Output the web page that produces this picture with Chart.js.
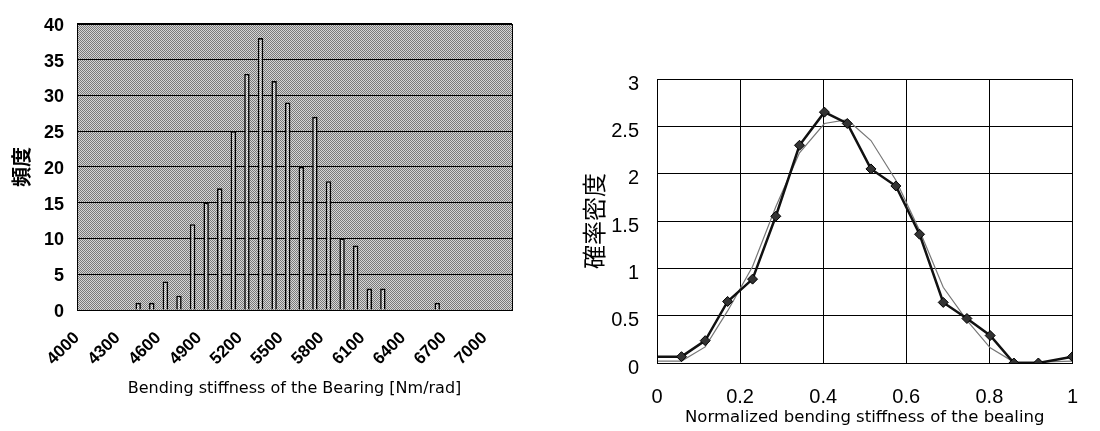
<!DOCTYPE html>
<html>
<head>
<meta charset="utf-8">
<script src="https://cdn.jsdelivr.net/npm/chart.js@4.4.1/dist/chart.umd.min.js"></script>
<style>
  body { margin: 0; background: #fff; }
  #marco { position: relative; width: 1100px; height: 431px; }
  #histograma { position: absolute; left: 0; top: 0; }
  #densidad { position: absolute; left: 560px; top: 0; }
</style>
</head>
<body>
<div id="marco">
  <canvas id="histograma" width="560" height="431"></canvas>
  <canvas id="densidad" width="540" height="431"></canvas>
</div>
<script>
// 1. DATOS DEL HISTOGRAMA (clases cada 100 Nm/rad)
const clases = [4000, 4100, 4200, 4300, 4400, 4500, 4600, 4700, 4800, 4900,
                5000, 5100, 5200, 5300, 5400, 5500, 5600, 5700, 5800, 5900,
                6000, 6100, 6200, 6300, 6400, 6500, 6600, 6700, 6800, 6900,
                7000, 7100];
const frecuencias = [0, 0, 0, 0, 1, 1, 4, 2, 12, 15,
                     17, 25, 33, 38, 32, 29, 20, 27, 18, 10,
                     9, 3, 3, 0, 0, 0, 1, 0, 0, 0,
                     0, 0];
const etiquetasX = ["4000", "4300", "4600", "4900", "5200", "5500", "5800", "6100", "6400", "6700", "7000"];

// 2. DATOS DE DENSIDAD (rigidez normalizada)
const rigidezNorm = [0, 0.059, 0.116, 0.170, 0.230, 0.286, 0.343, 0.403, 0.458, 0.515,
                     0.575, 0.632, 0.689, 0.746, 0.802, 0.859, 0.918, 1.0];
const densidadMedida = [0.067, 0.067, 0.236, 0.65, 0.886, 1.55, 2.30, 2.65, 2.53, 2.05,
                        1.87, 1.36, 0.64, 0.47, 0.29, 0, 0, 0.067];
const densidadAjuste = [0.02, 0.02, 0.17, 0.55, 1.02, 1.65, 2.22, 2.53, 2.57, 2.35,
                        1.93, 1.40, 0.80, 0.45, 0.16, 0.01, 0.01, 0.02];

const fuenteNum = "'Liberation Sans', Arial, sans-serif";
const fuenteTit = "'DejaVu Sans', sans-serif";
const fuenteJp = "'Noto Sans CJK JP', sans-serif";

// trama de puntos tipo Excel
function crearTrama(claro, oscuro) {
  const t = document.createElement("canvas");
  t.width = 2; t.height = 2;
  const g = t.getContext("2d");
  g.fillStyle = claro; g.fillRect(0, 0, 2, 2);
  g.fillStyle = oscuro; g.fillRect(0, 0, 1, 1); g.fillRect(1, 1, 1, 1);
  return g.createPattern(t, "repeat");
}

const fondoArea = {
  id: "fondoArea",
  beforeDraw(chart, args, opts) {
    if (!opts.relleno) return;
    const { ctx, chartArea: a } = chart;
    ctx.save();
    ctx.fillStyle = opts.relleno;
    ctx.fillRect(a.left, a.top, a.width, a.height);
    ctx.restore();
  },
  afterDraw(chart) {
    const { ctx, chartArea: a } = chart;
    ctx.save();
    ctx.strokeStyle = "#000";
    ctx.lineWidth = 1;
    ctx.strokeRect(Math.round(a.left) + 0.5, Math.round(a.top) + 0.5, Math.round(a.width), Math.round(a.height));
    ctx.restore();
  }
};

Chart.defaults.animation = false;
Chart.defaults.color = "#000";

// HISTOGRAMA
new Chart(document.getElementById("histograma"), {
  type: "bar",
  data: {
    labels: clases,
    datasets: [{
      data: frecuencias,
      backgroundColor: crearTrama("#f2f2f2", "#9a9a9a"),
      borderColor: "#000",
      borderWidth: 1.6,
      barPercentage: 0.4,
      categoryPercentage: 1
    }]
  },
  options: {
    responsive: false,
    layout: { padding: { top: 13, right: 48, left: 0, bottom: 0 } },
    plugins: {
      legend: { display: false },
      tooltip: { enabled: false },
      fondoArea: { relleno: crearTrama("#d6d6d6", "#7a7a7a") }
    },
    scales: {
      x: {
        grid: { display: false, drawTicks: false },
        border: { display: true, color: "#000" },
        ticks: {
          autoSkip: false, minRotation: 45, maxRotation: 45, padding: 18, labelOffset: -7,
          font: { size: 17, family: fuenteNum, weight: "bold" },
          callback: (v, i) => etiquetasX.includes(String(clases[i])) ? String(clases[i]) : ""
        },
        title: {
          display: true, text: "Bending stiffness of the Bearing [Nm/rad]",
          font: { size: 16, family: fuenteTit }, padding: { top: 4, bottom: 33 }
        },
        afterFit: s => { s.height = 121; }
      },
      y: {
        min: 0, max: 40,
        grid: { color: "#000", lineWidth: 1, drawTicks: false },
        border: { display: true, color: "#000" },
        ticks: { stepSize: 5, padding: 13, labelOffset: 2, font: { size: 18, family: fuenteNum, weight: "bold" } },
        title: {
          display: true, text: "頻度",
          font: { size: 20, family: fuenteJp, weight: "bold" }, padding: { top: 9, bottom: 0 }
        },
        afterFit: s => { s.width = 77; }
      }
    }
  },
  plugins: [fondoArea]
});

// DENSIDAD DE PROBABILIDAD
new Chart(document.getElementById("densidad"), {
  type: "line",
  data: {
    datasets: [
      {
        data: rigidezNorm.map((x, i) => ({ x: x, y: densidadMedida[i] })),
        borderColor: "#111",
        borderWidth: 2.5,
        pointStyle: "rectRot",
        pointRadius: rigidezNorm.map((x, i) => i === 0 ? 0 : 5),
        pointBackgroundColor: "#333",
        pointBorderColor: "#000",
        pointBorderWidth: 1,
        tension: 0
      },
      {
        data: rigidezNorm.map((x, i) => ({ x: x, y: densidadAjuste[i] })),
        borderColor: "#777",
        borderWidth: 1.2,
        pointRadius: 0,
        tension: 0
      }
    ]
  },
  options: {
    responsive: false,
    layout: { padding: { top: 79, right: 7, left: 0, bottom: 0 } },
    plugins: {
      legend: { display: false },
      tooltip: { enabled: false },
      fondoArea: { relleno: null }
    },
    scales: {
      x: {
        type: "linear", min: 0, max: 1,
        grid: { color: "#000", lineWidth: 1, drawTicks: false },
        border: { display: true, color: "#000" },
        ticks: {
          stepSize: 0.2, padding: 22, font: { size: 20, family: fuenteNum },
          callback: v => String(+v.toFixed(2))
        },
        title: {
          display: true, text: "Normalized bending stiffness of the bealing",
          font: { size: 16.5, family: fuenteTit }, padding: { top: 0, bottom: 3 }
        },
        afterFit: s => { s.height = 68; }
      },
      y: {
        min: 0, max: 3,
        grid: { color: "#000", lineWidth: 1, drawTicks: false },
        border: { display: true, color: "#000" },
        ticks: {
          stepSize: 0.5, padding: 18, labelOffset: 5, font: { size: 20, family: fuenteNum },
          callback: v => String(+v.toFixed(2))
        },
        title: {
          display: true, text: "確率密度",
          font: { size: 24, family: fuenteJp }, padding: { top: 19, bottom: 0 }
        },
        afterFit: s => { s.width = 97; }
      }
    }
  },
  plugins: [fondoArea]
});
</script>
</body>
</html>
